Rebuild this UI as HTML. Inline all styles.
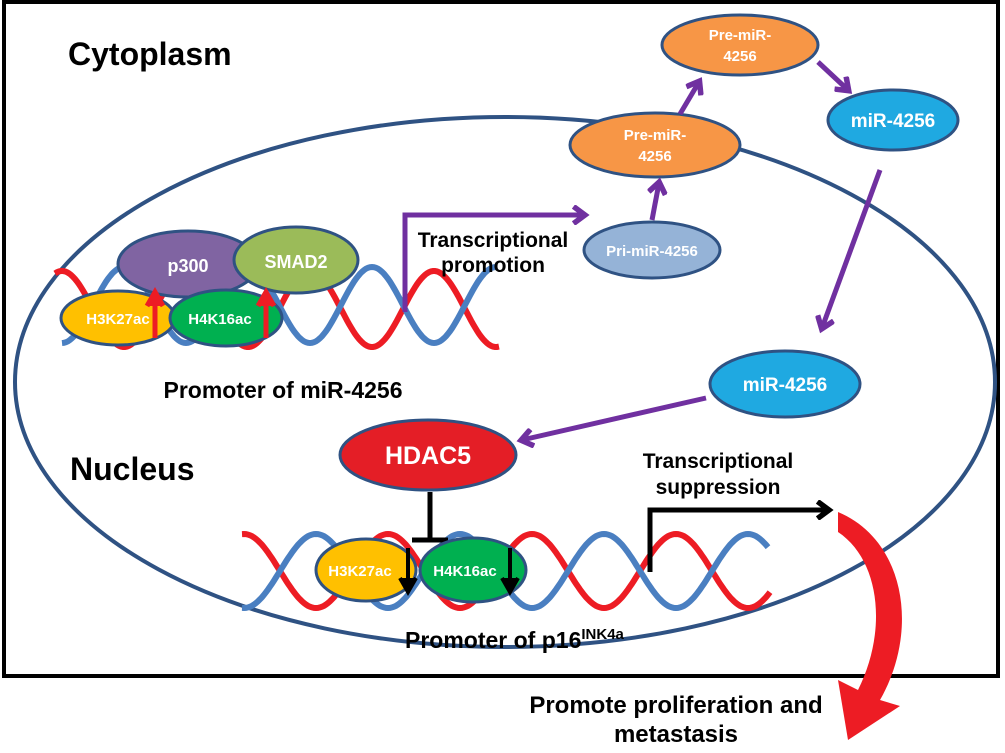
<!DOCTYPE html>
<html><head><style>
body{margin:0;background:#fff}
svg text{font-family:"Liberation Sans",Arial,sans-serif;font-weight:bold}
</style></head><body>
<svg width="1005" height="748" viewBox="0 0 1005 748" xmlns="http://www.w3.org/2000/svg">
<defs>
<marker id="pa" markerWidth="4" markerHeight="4" refX="2.4" refY="2" orient="auto" markerUnits="strokeWidth"><path d="M0.3,0.3 L2.6,2 L0.3,3.7" fill="none" stroke="#7030a0" stroke-width="1.1"/></marker>
<marker id="ba" markerWidth="4" markerHeight="4" refX="2.4" refY="2" orient="auto" markerUnits="strokeWidth"><path d="M0.3,0.3 L2.6,2 L0.3,3.7" fill="none" stroke="#000" stroke-width="1.1"/></marker>
</defs>
<rect x="4" y="2" width="994" height="674" fill="none" stroke="#000" stroke-width="4"/>
<ellipse cx="505" cy="382" rx="490" ry="265" fill="none" stroke="#2f5283" stroke-width="4"/>
<text x="68" y="65" font-size="32">Cytoplasm</text>
<text x="70" y="480" font-size="32">Nucleus</text>
<g id="dna1" fill="none"></g>
<g id="dna2" fill="none"></g>
<ellipse cx="188" cy="264" rx="70" ry="33" fill="#8064a2" stroke="#2f5283" stroke-width="3"/>
<text x="188" y="272" font-size="18" fill="#fff" text-anchor="middle">p300</text>
<ellipse cx="296" cy="260" rx="62" ry="33" fill="#9bbb59" stroke="#2f5283" stroke-width="3"/>
<text x="296" y="268" font-size="18" fill="#fff" text-anchor="middle">SMAD2</text>
<ellipse cx="118" cy="318" rx="57" ry="27" fill="#ffc000" stroke="#2f5283" stroke-width="3"/>
<text x="118" y="324" font-size="15" fill="#fff" text-anchor="middle">H3K27ac</text>
<ellipse cx="226" cy="318" rx="56" ry="28" fill="#00b050" stroke="#2f5283" stroke-width="3"/>
<text x="220" y="324" font-size="15" fill="#fff" text-anchor="middle">H4K16ac</text>
<path d="M155,338 V300 M147,306 L155,292 L163,306" stroke="#ed1c24" stroke-width="5" fill="#ed1c24"/>
<path d="M266,338 V300 M258,306 L266,292 L274,306" stroke="#ed1c24" stroke-width="5" fill="#ed1c24"/>
<text x="283" y="398" font-size="23" text-anchor="middle">Promoter of miR-4256</text>
<path d="M405,312 V215 H584" fill="none" stroke="#7030a0" stroke-width="5" marker-end="url(#pa)"/>
<text x="493" y="247" font-size="21" text-anchor="middle">Transcriptional</text>
<text x="493" y="272" font-size="21" text-anchor="middle">promotion</text>
<ellipse cx="652" cy="250" rx="68" ry="28" fill="#95b3d7" stroke="#2f5283" stroke-width="3"/>
<text x="652" y="256" font-size="15" fill="#fff" text-anchor="middle">Pri-miR-4256</text>
<ellipse cx="655" cy="145" rx="85" ry="32" fill="#f79646" stroke="#2f5283" stroke-width="3"/>
<text x="655" y="140" font-size="15" fill="#fff" text-anchor="middle">Pre-miR-</text>
<text x="655" y="161" font-size="15" fill="#fff" text-anchor="middle">4256</text>
<ellipse cx="740" cy="45" rx="78" ry="30" fill="#f79646" stroke="#2f5283" stroke-width="3"/>
<text x="740" y="40" font-size="15" fill="#fff" text-anchor="middle">Pre-miR-</text>
<text x="740" y="61" font-size="15" fill="#fff" text-anchor="middle">4256</text>
<ellipse cx="893" cy="120" rx="65" ry="30" fill="#1fa9e1" stroke="#2f5283" stroke-width="3"/>
<text x="893" y="127" font-size="19" fill="#fff" text-anchor="middle">miR-4256</text>
<ellipse cx="785" cy="384" rx="75" ry="33" fill="#1fa9e1" stroke="#2f5283" stroke-width="3"/>
<text x="785" y="391" font-size="19" fill="#fff" text-anchor="middle">miR-4256</text>
<ellipse cx="428" cy="455" rx="88" ry="35" fill="#e41e26" stroke="#2f5283" stroke-width="3"/>
<text x="428" y="464" font-size="25" fill="#fff" text-anchor="middle">HDAC5</text>
<g stroke="#7030a0" stroke-width="5" fill="none" marker-end="url(#pa)">
<path d="M652,220 L659,183"/>
<path d="M680,114 L699,82"/>
<path d="M818,62 L848,90"/>
<path d="M880,170 L822,328"/>
<path d="M706,398 L522,440"/>
</g>
<path d="M430,492 V540 M412,540 H448" stroke="#000" stroke-width="5" fill="none"/>
<ellipse cx="366" cy="570" rx="50" ry="31" fill="#ffc000" stroke="#2f5283" stroke-width="3"/>
<text x="360" y="576" font-size="15" fill="#fff" text-anchor="middle">H3K27ac</text>
<ellipse cx="473" cy="570" rx="53" ry="32" fill="#00b050" stroke="#2f5283" stroke-width="3"/>
<text x="465" y="576" font-size="15" fill="#fff" text-anchor="middle">H4K16ac</text>
<path d="M408,548 V585 M400,578 L408,592 L416,578" stroke="#000" stroke-width="4" fill="#000"/>
<path d="M510,548 V585 M502,578 L510,592 L518,578" stroke="#000" stroke-width="4" fill="#000"/>
<path d="M650,572 V510 H828" fill="none" stroke="#000" stroke-width="5" marker-end="url(#ba)"/>
<text x="718" y="468" font-size="21" text-anchor="middle">Transcriptional</text>
<text x="718" y="494" font-size="21" text-anchor="middle">suppression</text>
<text x="405" y="648" font-size="23">Promoter of p16<tspan font-size="15" dy="-9">INK4a</tspan></text>
<path d="M838,512 C905,540 920,630 880,700 L900,706 L848,740 L838,680 L858,690 C888,630 880,560 838,532 Z" fill="#ed1c24"/>
<text x="676" y="713" font-size="24" text-anchor="middle">Promote proliferation and</text>
<text x="676" y="742" font-size="24" text-anchor="middle">metastasis</text>
</svg>
<script>
function wave(g,x0,x1,c,a,p,ph,sign,col){
 let d="";for(let x=x0;x<=x1;x+=2){let y=c+sign*a*Math.cos(2*Math.PI*(x-ph)/p);d+=(x==x0?"M":"L")+x+","+y.toFixed(1);}
 const e=document.createElementNS("http://www.w3.org/2000/svg","path");e.setAttribute("d",d);e.setAttribute("stroke",col);e.setAttribute("stroke-width","6");e.setAttribute("fill","none");document.getElementById(g).appendChild(e);}
wave("dna1",55,500,309,38,124,310,-1,"#ed1c24");
wave("dna1",62,496,305,38,124,310,1,"#4a7fc1");
wave("dna2",242,771,571,37,144,244,-1,"#ed1c24");
wave("dna2",242,768,571,37,144,244,1,"#4a7fc1");
</script>
</body></html>
